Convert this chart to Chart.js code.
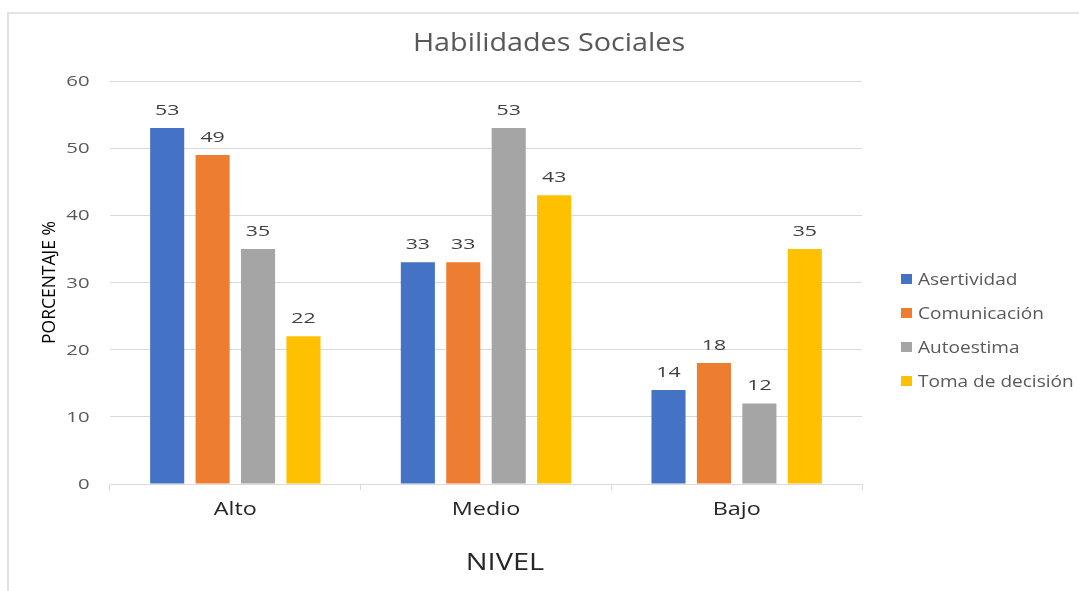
<!DOCTYPE html>
<html>
<head>
<meta charset="utf-8">
<script src="https://cdn.jsdelivr.net/npm/chart.js@4"></script>
<style>
    html, body { margin: 0; padding: 0; background: #fff; }
    #wrap { position: relative; width: 1079px; height: 591px; overflow: hidden; }
    #frame {
        position: absolute; left: 7px; top: 12px; width: 1200px; height: 700px;
        border-left: 2px solid #e3e3e3; border-top: 2px solid #e3e3e3;
    }
    canvas { position: absolute; left: 0; top: 0; }
</style>
</head>
<body>
<div id="wrap">
    <div id="frame"></div>
    <canvas id="chart" width="1079" height="591"></canvas>
</div>
<script>
const categories = ["Alto", "Medio", "Bajo"];
const seriesNames = ["Asertividad", "Comunicación", "Autoestima", "Toma de decisión"];
const asertividad = [53, 33, 14];
const comunicacion = [49, 33, 18];
const autoestima = [35, 53, 12];
const tomaDecision = [22, 43, 35];
const yTicks = [0, 10, 20, 30, 40, 50, 60];

const COLORS = ["#4472C4", "#ED7D31", "#A5A5A5", "#FFC000"];
const FONT = "'Open Sans', sans-serif";

// Excel's font in the source runs wide, so texts get a horizontal stretch (sx)
function drawText(ctx, text, x, y, opts) {
    ctx.save();
    ctx.font = `${opts.size}px ${FONT}`;
    ctx.fillStyle = opts.color;
    ctx.textAlign = opts.align || "center";
    ctx.textBaseline = "alphabetic";
    ctx.translate(x, y);
    ctx.scale(opts.sx || 1, 1);
    if (opts.rotate) ctx.rotate(opts.rotate);
    ctx.fillText(text, 0, 0);
    ctx.restore();
}

// tick labels, placed with the chart's own scales
const tickLabels = {
    id: "tickLabels",
    afterDraw(chart) {
        const ctx = chart.ctx;
        const xs = chart.scales.x;
        const ys = chart.scales.y;
        ys.ticks.forEach((t) => {
            drawText(ctx, String(t.value), ys.right - 20.5, ys.getPixelForValue(t.value) + 5,
                { size: 14, color: "#595959", sx: 1.45, align: "right" });
        });
        chart.data.labels.forEach((label, i) => {
            drawText(ctx, label, xs.getPixelForTick(i), xs.top + 31,
                { size: 19, color: "#262626", sx: 1.23 });
        });
    },
};

// value labels above each bar
const barLabels = {
    id: "barLabels",
    afterDatasetsDraw(chart) {
        chart.data.datasets.forEach((ds, i) => {
            chart.getDatasetMeta(i).data.forEach((bar, j) => {
                drawText(chart.ctx, String(ds.data[j]), bar.x, bar.y - 13,
                    { size: 15, color: "#404040", sx: 1.42 });
            });
        });
    },
};

// title, axis titles and the legend on the right
const decorations = {
    id: "decorations",
    afterDraw(chart) {
        const ctx = chart.ctx;
        const area = chart.chartArea;

        drawText(ctx, "Habilidades Sociales", 549, 50.5, { size: 25, color: "#595959", sx: 1.15 });
        drawText(ctx, "NIVEL", (area.left + area.right) / 2 + 19, 570, { size: 23, color: "#262626", sx: 1.26 });
        drawText(ctx, "PORCENTAJE %", 54.5, (area.top + area.bottom) / 2,
            { size: 17.5, color: "#000", rotate: -Math.PI / 2 });

        const x0 = area.right + 39;
        const mid = 330;
        const step = 34;
        chart.data.datasets.forEach((ds, i) => {
            const y = mid + (i - 1.5) * step;
            ctx.fillStyle = ds.backgroundColor;
            ctx.fillRect(x0, y - 5, 11, 10);
            drawText(ctx, ds.label, x0 + 17, y + 6, { size: 17, color: "#595959", sx: 1.12, align: "left" });
        });
    },
};

const values = [asertividad, comunicacion, autoestima, tomaDecision];

new Chart(document.getElementById("chart"), {
    type: "bar",
    data: {
        labels: categories,
        datasets: seriesNames.map((name, i) => ({
            label: name,
            data: values[i],
            backgroundColor: COLORS[i],
            categoryPercentage: 0.725,
            barPercentage: 0.75,
        })),
    },
    options: {
        responsive: false,
        animation: false,
        layout: { padding: { left: 0, right: 217, top: 81, bottom: 0 } },
        plugins: {
            legend: { display: false },
            tooltip: { enabled: false },
            title: { display: false },
        },
        scales: {
            x: {
                grid: {
                    drawOnChartArea: false,
                    drawTicks: true,
                    tickLength: 6,
                    color: "#d9d9d9",
                    offset: true,
                },
                border: { color: "#d9d9d9" },
                ticks: { display: false },
                afterFit(scale) { scale.height = 107; },
            },
            y: {
                min: 0,
                max: 60,
                afterBuildTicks(scale) { scale.ticks = yTicks.map((v) => ({ value: v })); },
                grid: { color: "#d9d9d9", drawTicks: false },
                border: { display: false },
                ticks: { display: false },
                afterFit(scale) { scale.width = 110; },
            },
        },
    },
    plugins: [tickLabels, barLabels, decorations],
});
</script>
</body>
</html>
